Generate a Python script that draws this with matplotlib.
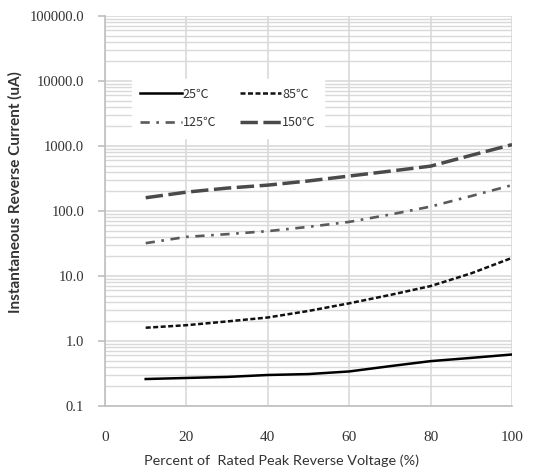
import matplotlib
matplotlib.use("Agg")
import matplotlib.pyplot as plt
from matplotlib.ticker import LogLocator, FixedLocator, NullFormatter, FuncFormatter

x_pct = [10, 20, 30, 40, 50, 60, 70, 80, 90, 100]
i_25 = [0.26, 0.27, 0.28, 0.30, 0.31, 0.34, 0.41, 0.49, 0.55, 0.62]
i_85 = [1.6, 1.75, 2.0, 2.3, 2.9, 3.8, 5.1, 7.0, 11.0, 19.0]
i_125 = [32, 40, 44, 49, 57, 68, 88, 117, 170, 250]
i_150 = [160, 195, 225, 250, 290, 345, 410, 490, 720, 1050]
labels = ["25\u2103", "85\u2103", "125\u2103", "150\u2103"]
x_ticks = [0, 20, 40, 60, 80, 100]

plt.rcParams["font.family"] = ["Liberation Serif", "DejaVu Serif"]

fig = plt.figure(figsize=(5.42, 4.73), dpi=100)
ax = fig.add_axes([105/542, 1-406/473, (512-105)/542, (406-16)/473])

ax.set_yscale("log")
ax.set_xlim(0, 100)
ax.set_ylim(0.1, 100000)

grid_c = "#d9d9d9"
ax.yaxis.set_major_locator(LogLocator(base=10, numticks=10))
ax.yaxis.set_minor_locator(LogLocator(base=10, subs=range(2, 10), numticks=10))
ax.yaxis.set_minor_formatter(NullFormatter())
ax.yaxis.set_major_formatter(FuncFormatter(lambda v, p: f"{v:.1f}"))
ax.xaxis.set_major_locator(FixedLocator(x_ticks))
ax.grid(True, which="major", color=grid_c, lw=1.2)
ax.grid(True, which="minor", axis="y", color=grid_c, lw=1.0)
ax.set_axisbelow(True)

l25, = ax.plot(x_pct, i_25, color="black", lw=1.8, ls="-", label=labels[0])
l85, = ax.plot(x_pct, i_85, color="#111111", lw=1.8, ls=(0, (2.0, 1.0)), label=labels[1])
l125, = ax.plot(x_pct, i_125, color="#5a5a5a", lw=1.9, ls=(0, (3.5, 2.5, 1.0, 2.5)), label=labels[2])
l150, = ax.plot(x_pct, i_150, color="#4a4a4a", lw=2.5, ls=(0, (5.0, 1.6)), label=labels[3])

for s in ["top", "right"]:
    ax.spines[s].set_visible(False)
for s in ["left", "bottom"]:
    ax.spines[s].set_color("#bfbfbf")
    ax.spines[s].set_linewidth(1.2)

ax.tick_params(axis="y", which="major", length=5, color="#bfbfbf", width=1.2, pad=10,
               labelsize=10.5, labelcolor="#333333")
ax.tick_params(axis="y", which="minor", length=0)
ax.tick_params(axis="x", length=0, pad=18, labelsize=11, labelcolor="#333333")
for t in ax.get_xticklabels() + ax.get_yticklabels():
    t.set_fontfamily(["Liberation Serif", "DejaVu Serif"])

ax.set_xlabel("Percent of  Rated Peak Reverse Voltage (%)", fontsize=10.4, family=["Lato", "DejaVu Sans"],
              color="#333333")
ax.xaxis.set_label_coords((282-105)/407, -0.125)
fig.text(0.028, 0.595, "Instantaneous Reverse Current (uA)", rotation=90, ha="center", va="center",
         fontsize=11, fontweight="bold", family=["Lato", "DejaVu Sans"], color="#333333")

leg = ax.legend([l25, l125, l85, l150], [labels[0], labels[2], labels[1], labels[3]],
                ncol=2, loc="upper left", bbox_to_anchor=(0.05, 0.855), frameon=True,
                facecolor="white", edgecolor="white", framealpha=1.0, fancybox=False,
                handlelength=3.3, handletextpad=0.08, columnspacing=1.9, labelspacing=1.25,
                borderpad=0.7, prop={"family": ["Noto Sans CJK SC", "DejaVu Sans"], "size": 9})
for t in leg.get_texts():
    t.set_color("#333333")

fig.savefig("out.png", dpi=100, facecolor="white")
